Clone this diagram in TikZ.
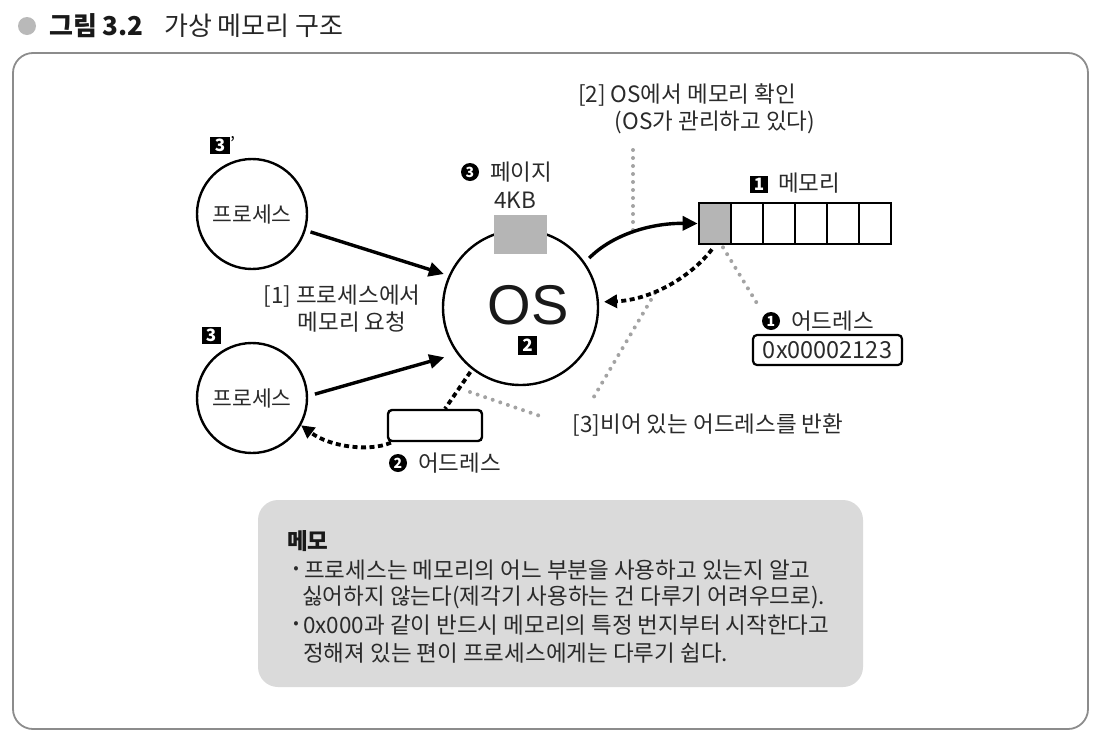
\documentclass[tikz,border=0pt]{standalone}
\usepackage{fontspec}
\setmainfont{Noto Sans CJK KR}
\newfontfamily\osfont{Liberation Sans}
\usetikzlibrary{arrows.meta,calc}
\definecolor{txt}{HTML}{2A2A2A}
\definecolor{dotgray}{HTML}{A3A3A3}
\definecolor{pagegray}{HTML}{B5B5B5}
\definecolor{memogray}{HTML}{DADADA}
\definecolor{framegray}{HTML}{8C8C8C}
\newcommand{\myfs}[1]{\fontsize{#1}{#1}\selectfont}
\begin{document}
\begin{tikzpicture}[x=1pt,y=-1pt,
  lbl/.style={font=\myfs{22.5}, text=txt, inner sep=0pt},
  proc/.style={circle, draw, line width=2.4pt, minimum size=110pt, inner sep=0pt, font=\myfs{21.5}, text=txt},
  arr/.style={line width=3.4pt, -{Triangle[length=15pt,width=14pt]}},
  dasharr/.style={line width=3.8pt, dash pattern=on 5pt off 3.5pt, -{Triangle[length=13pt,width=13pt]}},
  blkdash/.style={line width=3.8pt, dash pattern=on 5pt off 3.5pt},
  gdot/.style={draw=dotgray, line width=4pt, line cap=round, dash pattern=on 0pt off 8pt},
  blk/.style={fill=black, text=white, font=\bfseries\myfs{17}, inner sep=0pt, minimum width=20pt, minimum height=17pt},
  cnum/.style={circle, fill=black, text=white, font=\bfseries\myfs{14}, inner sep=0pt, minimum size=18pt},
  cell/.style={draw, line width=2.7pt, minimum width=32pt, minimum height=41pt, inner sep=0pt}
]
\useasboundingbox (0,0) rectangle (1100,734);
% title
\fill[gray!55] (27,26) circle (9pt);
\node[anchor=west, inner sep=0pt, font=\bfseries\myfs{26}, text=black!90] (ttl1) at (49,26) {그림 3.2};
\node[anchor=west, inner sep=0pt, font=\myfs{26}, text=black!85] (ttl2) at (164,26) {가상 메모리 구조};
% frame
\draw[framegray, line width=1.8pt, rounded corners=20pt] (13,53) rectangle (1088,729);

% processes
\node[proc] (proc1) at (252,214) {프로세스};
\node[proc] (proc2) at (252,398) {프로세스};
\node[blk] (n3p) at (220,145.5) {3};
\node[anchor=west, inner sep=0pt, font=\myfs{18}, text=black] (prime) at (230,143) {'};
\node[blk, minimum width=19pt, minimum height=17pt] (n3) at (211,335) {3};

% OS
\node[circle, draw, line width=2.4pt, minimum size=155pt, inner sep=0pt] (os) at (520.5,307.5) {};
\node[fill=pagegray, minimum width=53pt, minimum height=39pt, inner sep=0pt] (page) at (520.5,234.5) {};
\node[inner sep=0pt, font=\osfont\myfs{56}, text=black!90] (oslbl) at (528,305) {OS};
\node[blk, minimum width=19pt, minimum height=19pt] (n2) at (527.5,345.5) {2};
\node[cnum] (c3) at (470,172) {3};
\node[lbl, anchor=west] (pagelbl) at (490,172) {페이지};
\node[lbl] (kb) at (515,200) {4KB};

% memory
\node[cell, fill=pagegray] (mem1) at (715,223.5) {};
\foreach \i in {2,...,6} {
  \node[cell] (mem\i) at ({715+32*(\i-1)},223.5) {};
}
\node[blk, minimum width=18pt, minimum height=17pt] (n1) at (759,184) {1};
\node[lbl, anchor=west] (memlbl) at (778,183) {메모리};

% address 1
\node[cnum] (c1) at (771,321) {1};
\node[lbl, anchor=west] (addr1lbl) at (791,321) {어드레스};
\node[draw, line width=2.2pt, rounded corners=4pt, minimum width=149pt, minimum height=30pt, inner sep=0pt, font=\myfs{23.5}, text=txt] (addrbox) at (827.5,350) {0x00002123};

% address 2
\node[draw, line width=2.4pt, rounded corners=4pt, minimum width=94pt, minimum height=31pt, inner sep=0pt] (box) at (435,425.5) {};
\node[cnum] (c2) at (398,463) {2};
\node[lbl, anchor=west] (addr2lbl) at (418,463) {어드레스};

% labels
\node[lbl] (l1a) at (342,296) {[1] 프로세스에서};
\node[lbl] (l1b) at (352,322) {메모리 요청};
\node[lbl] (l2a) at (687,95) {[2] OS에서 메모리 확인};
\node[lbl] (l2b) at (715,122) {(OS가 관리하고 있다)};
\node[lbl] (l3) at (708,425) {[3]비어 있는 어드레스를 반환};

% gray dotted leaders
\coordinate (gA) at (633,150);
\coordinate (gB) at (633,230);
\coordinate (gC) at (758,305);
\coordinate (gD) at (655,293);
\coordinate (gE) at (592,400);
\coordinate (gF) at (470,392);
\coordinate (gG) at (543,417);
\draw[gdot] (gA) -- (gB);
\draw[gdot] ($(mem1.south)+(8,2)$) -- (gC);
\draw[gdot] (gD) -- (gE);
\draw[gdot] (gF) -- (gG);

% connectors
\draw[arr, shorten <=5pt, shorten >=5pt] (proc1.-17) -- (os.156);
\draw[arr, shorten <=7pt, shorten >=13pt] (proc2.2) -- (os.216);
\draw[arr, shorten <=6pt] (os.35) .. controls (612,235) and (650,223) .. (mem1.west);
\draw[dasharr, shorten <=5pt, shorten >=5pt] (mem1.south) .. controls (690,278) and (650,300) .. (os.4);
\draw[blkdash, shorten <=3pt] (os.232) -- ($(box.north)+(10,0)$);
\draw[dasharr, shorten <=1pt] ($(box.south west)+(5,0)$) .. controls (370,452) and (330,447) .. (proc2.-29);

% memo
\node[fill=memogray, rounded corners=20pt, minimum width=605pt, minimum height=187pt, inner sep=0pt] (memo) at (560.5,593.5) {};
\node[anchor=west, inner sep=0pt, font=\bfseries\myfs{22.5}, text=black!90] (memot) at (287,541) {메모};
\node[inner sep=0pt, font=\myfs{16}, text=txt] (b1) at (296,570) {•};
\node[lbl, anchor=west] (m1) at (304,570) {프로세스는 메모리의 어느 부분을 사용하고 있는지 알고};
\node[lbl, anchor=west] (m2) at (302,597) {싫어하지 않는다(제각기 사용하는 건 다루기 어려우므로).};
\node[inner sep=0pt, font=\myfs{16}, text=txt] (b2) at (296,625) {•};
\node[lbl, anchor=west] (m3) at (303,625) {0x000과 같이 반드시 메모리의 특정 번지부터 시작한다고};
\node[lbl, anchor=west] (m4) at (303,653) {정해져 있는 편이 프로세스에게는 다루기 쉽다.};
\end{tikzpicture}
\end{document}
